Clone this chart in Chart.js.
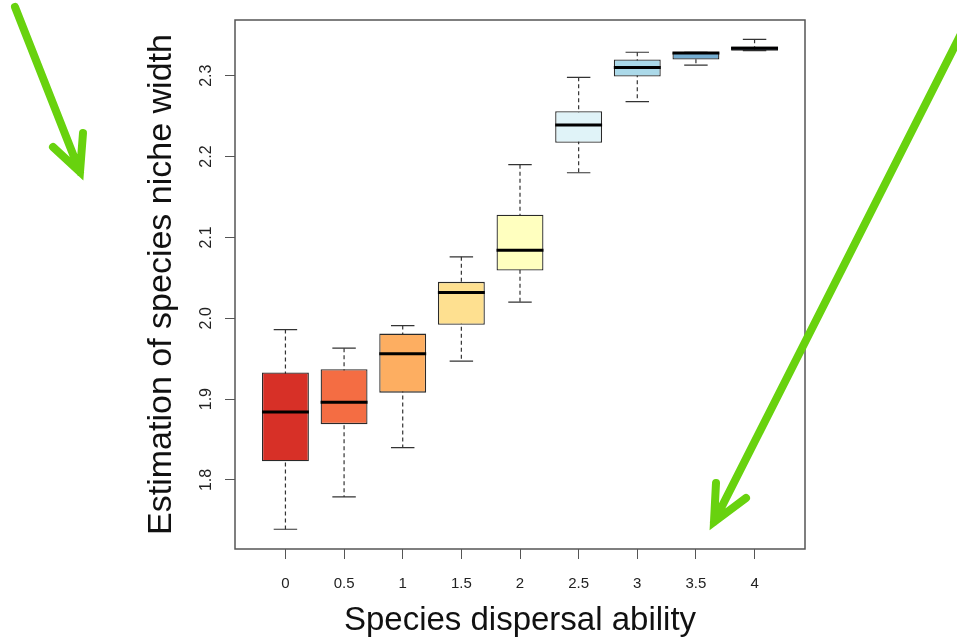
<!DOCTYPE html>
<html>
<head>
<meta charset="utf-8">
<title>Species niche width</title>
<script src="https://cdn.jsdelivr.net/npm/chart.js@4.4.1/dist/chart.umd.min.js"></script>
<style>
  html, body { margin: 0; padding: 0; background: #fff; }
  #wrap { position: relative; width: 957px; height: 638px; }
  #arrows { position: absolute; left: 0; top: 0; pointer-events: none; }
</style>
</head>
<body>
<div id="wrap">
  <canvas id="nicheChart" width="957" height="638"></canvas>
  <!-- the two green arrows pasted over the figure -->
  <svg id="arrows" width="957" height="638">
    <g stroke="#68d20e" stroke-width="8" stroke-linecap="round" stroke-linejoin="miter" fill="none">
      <path d="M15 7 L80 172 M53 147 L80 172 L83 133"/>
      <path d="M962 32 L714 522 M716 483 L714 522 L746 498"/>
    </g>
  </svg>
</div>
<script>
// dispersal ability groups
const xLabels = ['0', '0.5', '1', '1.5', '2', '2.5', '3', '3.5', '4'];
const xPos = [1, 2, 3, 4, 5, 6, 7, 8, 9];

// boxplot stats
const whiskerLow  = [1.739, 1.779, 1.840, 1.947, 2.020, 2.180, 2.268, 2.313, 2.331];
const q1          = [1.823, 1.869, 1.908, 1.992, 2.059, 2.217, 2.299, 2.320, 2.331];
const median      = [1.884, 1.896, 1.956, 2.032, 2.084, 2.239, 2.310, 2.328, 2.334];
const q3          = [1.933, 1.937, 1.981, 2.045, 2.128, 2.256, 2.320, 2.329, 2.336];
const whiskerHigh = [1.986, 1.963, 1.991, 2.076, 2.190, 2.298, 2.329, 2.329, 2.345];

const yTicks = [1.8, 1.9, 2.0, 2.1, 2.2, 2.3];

// RdYlBu palette
const boxColors = ['#d73027', '#f46d43', '#fdae61', '#fee090', '#ffffbf', '#e0f3f8', '#abd9e9', '#74add1', '#4575b4'];

const FONT = "'Liberation Sans', Arial, sans-serif";

// whiskers + caps under the boxes, medians on top
const boxParts = {
    id: 'boxParts',
    beforeDatasetsDraw(chart) {
        const ctx = chart.ctx;
        const y = chart.scales.y;
        chart.getDatasetMeta(0).data.forEach((bar, i) => {
            const {x, width} = bar.getProps(['x', 'width'], true);
            const yLo = y.getPixelForValue(whiskerLow[i]);
            const yHi = y.getPixelForValue(whiskerHigh[i]);
            const cap = width / 4;
            ctx.save();
            ctx.strokeStyle = '#333';
            ctx.lineWidth = 1.2;
            ctx.setLineDash([4, 3]);
            ctx.beginPath();
            ctx.moveTo(x, yHi);
            ctx.lineTo(x, yLo);
            ctx.stroke();
            ctx.setLineDash([]);
            ctx.beginPath();
            ctx.moveTo(x - cap, yHi);
            ctx.lineTo(x + cap, yHi);
            ctx.moveTo(x - cap, yLo);
            ctx.lineTo(x + cap, yLo);
            ctx.stroke();
            ctx.restore();
        });
    },
    afterDatasetsDraw(chart) {
        const ctx = chart.ctx;
        const y = chart.scales.y;
        chart.getDatasetMeta(0).data.forEach((bar, i) => {
            const {x, width} = bar.getProps(['x', 'width'], true);
            const ym = y.getPixelForValue(median[i]);
            ctx.save();
            ctx.strokeStyle = '#000';
            ctx.lineWidth = 3;
            ctx.beginPath();
            ctx.moveTo(x - width / 2, ym);
            ctx.lineTo(x + width / 2, ym);
            ctx.stroke();
            ctx.restore();
        });
        // plot frame
        const a = chart.chartArea;
        ctx.save();
        ctx.strokeStyle = '#555';
        ctx.lineWidth = 1.5;
        ctx.strokeRect(a.left, a.top, a.right - a.left, a.bottom - a.top);
        ctx.restore();
    }
};

const data = {
    datasets: [{
        data: xPos.map((x, i) => ({x: x, y: [q1[i], q3[i]]})),
        backgroundColor: boxColors,
        borderColor: '#2a2a2a',
        borderWidth: 1.3,
        borderSkipped: false,
        categoryPercentage: 1,
        barPercentage: 0.8
    }]
};

const chart = new Chart(document.getElementById('nicheChart'), {
    type: 'bar',
    data: data,
    plugins: [boxParts],
    options: {
        responsive: false,
        animation: false,
        devicePixelRatio: 1,
        layout: {padding: {top: 20, right: 152, left: 0, bottom: 0}},
        plugins: {legend: {display: false}, tooltip: {enabled: false}},
        scales: {
            x: {
                type: 'linear',
                offset: false,
                min: 0.14,
                max: 9.86,
                border: {display: false},
                grid: {offset: false, drawOnChartArea: false, drawTicks: true, tickLength: 10, color: '#555', lineWidth: 1},
                afterBuildTicks: (scale) => { scale.ticks = xPos.map(v => ({value: v})); },
                afterFit: (scale) => { scale.height = 89; },
                ticks: {
                    padding: 16,
                    color: '#222',
                    font: {family: FONT, size: 15},
                    maxRotation: 0,
                    callback: (v, i) => xLabels[i]
                },
                title: {
                    display: true,
                    text: 'Species dispersal ability',
                    color: '#111',
                    font: {family: FONT, size: 33, lineHeight: 1.03},
                    padding: {top: 0, bottom: 0}
                }
            },
            y: {
                min: 1.7146,
                max: 2.3689,
                beginAtZero: false,
                border: {display: false},
                grid: {drawOnChartArea: false, drawTicks: true, tickLength: 10, color: '#555', lineWidth: 1},
                afterBuildTicks: (scale) => { scale.ticks = yTicks.map(v => ({value: v})); },
                afterFit: (scale) => { scale.width = 235; },
                ticks: {
                    padding: 7,
                    color: '#222',
                    crossAlign: 'center',
                    minRotation: 90,
                    maxRotation: 90,
                    font: {family: FONT, size: 16},
                    callback: (v) => v.toFixed(1)
                },
                title: {
                    display: true,
                    text: 'Estimation of species niche width',
                    color: '#111',
                    font: {family: FONT, size: 34},
                    padding: {top: 141, bottom: 0}
                }
            }
        }
    }
});
</script>
</body>
</html>
